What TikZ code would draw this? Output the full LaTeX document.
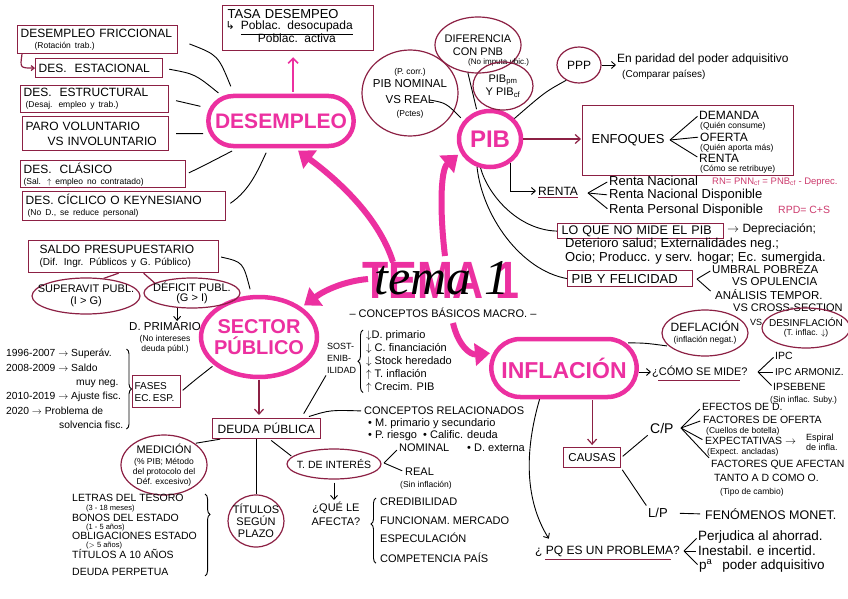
\documentclass[tikz,border=0pt]{standalone}
\usepackage{graphicx}
\usepackage{fontspec}
\setmainfont{Liberation Sans}
\newfontfamily\handf{Liberation Serif}
\newfontfamily\djv{DejaVu Sans}
\usetikzlibrary{shapes.geometric,shapes.misc,arrows.meta,decorations.pathreplacing,calc}
\definecolor{pinkM}{RGB}{236,48,160}
\definecolor{maroon}{RGB}{140,32,68}
\definecolor{rnC}{RGB}{205,60,110}
\newcommand{\fsz}[1]{\fontsize{#1}{#1}\selectfont}
\newcommand{\subtx}[1]{{\fontsize{8.5}{9}\selectfont #1}}
\newcommand{\tinytx}[1]{{\fontsize{7.5}{8}\selectfont #1}}
\lineskiplimit=-50pt
\begin{document}
\begin{tikzpicture}[x=1pt,y=-1pt,
  mbox/.style={draw=maroon, line width=1.2pt, inner sep=2pt, anchor=north west, align=left, font=\fsz{12}},
  mell/.style={draw=maroon, line width=1.2pt, ellipse, inner sep=0pt, align=center, font=\fsz{11}},
  bigshape/.style={draw=pinkM, line width=4.5pt, text=pinkM, align=center},
  con/.style={draw=black, line width=0.9pt},
  mcon/.style={draw=maroon, line width=1.2pt},
  marr/.style={mcon, -{Straight Barb[length=5pt,width=9pt]}},
  karr/.style={con, -{Straight Barb[length=4pt,width=7pt]}},
  bigarr/.style={draw=pinkM, line width=6pt, -{Triangle[length=15pt,width=22pt]}},
  txt/.style={inner sep=0pt, anchor=west, align=left, font=\fsz{11}},
  brc/.style={con, decorate, decoration={brace, amplitude=5pt, #1}},
  brc/.default={aspect=0.5},
]
\useasboundingbox (0,0) rectangle (848,599);
\fill[white] (0,0) rectangle (848,599);

% ================= DESEMPLEO =================
\node[mbox, minimum width=160pt, minimum height=28pt, text width=154pt] (fric) at (17,25) {DESEMPLEO FRICCIONAL\\[-1pt]\hspace*{14pt}\subtx{(Rotación trab.)}};
\node[mbox, minimum width=127pt, minimum height=19pt, text width=121pt] (est) at (35,58) {DES.\ \ ESTACIONAL};
\node[mbox, minimum width=148pt, minimum height=27pt, text width=142pt] (estr) at (20,85) {DES.\ \ ESTRUCTURAL\\[-1pt]\hspace*{2pt}\subtx{(Desaj. empleo y trab.)}};
\node[mbox, minimum width=146pt, minimum height=34pt, text width=140pt] (paro) at (22,116) {PARO VOLUNTARIO\\[3pt]\hspace*{22pt}VS INVOLUNTARIO};
\node[mbox, minimum width=165pt, minimum height=27pt, text width=159pt] (clas) at (20,160) {DES.\ \ CLÁSICO\\[-1pt]\subtx{(Sal. $\uparrow$ empleo no contratado)}};
\node[mbox, minimum width=203pt, minimum height=29pt, text width=197pt] (cicl) at (22,191) {DES. CÍCLICO O KEYNESIANO\\[-1pt]\hspace*{2pt}\subtx{(No D., se reduce personal)}};

\node[bigshape, rounded rectangle, minimum width=152pt, minimum height=50pt, font=\bfseries\fsz{21}] (des) at (281,121) {DESEMPLEO};

\node[mbox, minimum width=151pt, minimum height=45pt, text width=145pt, font=\fsz{13}] (tasa) at (222,5) {\hspace*{2pt}TASA DESEMPEO\\[-2pt]{\djv\fsz{11}↳}\hspace{6pt}\begin{tabular}[t]{@{}c@{}}\fsz{12}\underline{Poblac. desocupada}\\[-1pt]\fsz{12}Poblac. activa\end{tabular}};
\path (tasa.south) ++(-5,0) coordinate (tq);
\draw[draw=pinkM, line width=1.6pt, -{Straight Barb[length=5pt,width=10pt]}, shorten <=2pt, shorten >=6pt] (tq |- des.north) -- (tq);

\draw[mcon, -{Straight Barb[length=3pt,width=5pt]}] ([xshift=5pt]fric.south west) .. controls (20,68) .. (est.west);

\draw[con, shorten <=12pt, shorten >=8pt] (fric.east) .. controls (218,55) .. (des.150);
\draw[con, shorten <=6pt, shorten >=5pt] (est.east) .. controls (195,74) .. (des.157);
\draw[con, shorten <=7pt, shorten >=9pt] (estr.east) -- (des.170);
\draw[con, shorten <=7pt, shorten >=6pt] (paro.east) -- (des.190);
\draw[con, shorten <=3pt, shorten >=6pt] (clas.east) .. controls (205,165) .. (des.212);
\draw[con, shorten <=5pt, shorten >=5pt] (cicl.east) .. controls (250,190) and (258,170) .. (des.245);

% ================= PIB =================
\node[bigshape, ellipse, minimum width=62pt, minimum height=56pt, inner sep=0pt, font=\bfseries\fsz{24}] (pib) at (490,139) {PIB};
\node[mell, minimum width=86pt, minimum height=56pt, inner xsep=-4pt] (difer) at (478,45) {DIFERENCIA\\[2pt]CON PNB};
\node[txt, font=\fsz{8}] (difsub) at (468,62) {(No imputa ubic.)};
\node[mell, minimum width=60pt, minimum height=48pt] (pibpm) at (503,86) {PIB\textsubscript{pm}\\[2pt]Y PIB\textsubscript{cf}};
\node[mell, minimum width=96pt, minimum height=86pt, inner xsep=-4pt, font=\fsz{11.5}] (nom) at (410,93) {\subtx{(P. corr.)}\\[1.5pt]PIB NOMINAL\\[5pt]VS REAL\\[1pt]\subtx{(Pctes)}};
\coordinate (vsreal) at (430,100);
\draw[con, shorten >=4pt] (vsreal) .. controls (446,103) .. (pib.145);
\draw[con, shorten >=2pt] (difer.-110) -- (pib.115);

\node[mell, minimum width=44pt, minimum height=36pt, font=\fsz{12}] (ppp) at (579,65) {PPP};
\node[txt, font=\fsz{12}, anchor=north west] (pppt) at (617,54) {En paridad del poder adquisitivo\\[3pt]\hspace*{5pt}{\fsz{10}(Comparar países)}};
\draw[karr, shorten >=1pt] (ppp.east) -- (ppp.east -| pppt.west);
\draw[con] (ppp.230) .. controls (545,92) .. (pib.40);

\node[mbox, minimum width=211pt, minimum height=70pt, text width=205pt, font=\fsz{13}] (enf) at (582,105) {\hspace*{6pt}ENFOQUES};
\draw[marr, shorten >=1pt] (pib.east) -- (pib.east -| enf.west);
\coordinate (enfb) at (670,140);
\node[txt, font=\fsz{12}] (dem) at (699,115) {DEMANDA};
\node[txt, font=\fsz{8.5}] (demsub) at (700,126) {(Quién consume)};
\node[txt, font=\fsz{12}] (ofe) at (700,137) {OFERTA};
\node[txt, font=\fsz{8.5}] (ofesub) at (700,148) {(Quién aporta más)};
\node[txt, font=\fsz{12}] (ren) at (699,158) {RENTA};
\node[txt, font=\fsz{8.5}] (rensub) at (700,169) {(Cómo se retribuye)};
\draw[con, shorten >=2pt] (enfb) -- (dem.west);
\draw[con, shorten >=2pt] (enfb) -- (ofe.west);
\draw[con, shorten >=2pt] (enfb) -- (ren.west);

\node[txt, font=\fsz{12}] (renta) at (538,191) {RENTA};
\draw[karr, shorten >=2pt] (pib.-50) |- (renta.west);
\draw[mcon, line width=1pt] ([yshift=-2pt]renta.south west) -- ([yshift=-2pt]renta.south east);
\coordinate (rentab) at (588,193);
\node[txt, font=\fsz{13}] (rn) at (609,181) {Renta Nacional};
\node[txt, font=\fsz{13}] (rnd) at (609,195) {Renta Nacional Disponible};
\node[txt, font=\fsz{13}] (rpd) at (609,210) {Renta Personal Disponible};
\draw[con, shorten >=2pt] (rentab) -- (rn.west);
\draw[con, shorten >=2pt] (rentab) -- (rnd.west);
\draw[con, shorten >=2pt] (rentab) -- (rpd.west);
\node[txt, font=\fsz{9.5}, text=rnC] (rnf) at (712,182) {RN= PNN\textsubscript{cf} = PNB\textsubscript{cf} - Deprec.};
\node[txt, font=\fsz{10.5}, text=rnC] (rpdf) at (778,210) {RPD= C+S};

\node[mbox, minimum width=166pt, minimum height=15pt, inner sep=1.5pt, text width=162pt, font=\fsz{12.5}] (lo) at (557,223) {\hspace*{2pt}LO QUE NO MIDE EL PIB};
\node[txt, font=\fsz{12}] (lodep) at (727,229) {$\rightarrow$ Depreciación;};
\node[txt, font=\fsz{13}, anchor=north west] (lotx) at (565,238) {Deterioro salud; Externalidades neg.;\\[1pt]Ocio; Producc. y serv. hogar; Ec. sumergida.};

\node[mbox, minimum width=125pt, minimum height=16pt, inner sep=1.5pt, text width=121pt, font=\fsz{13}] (feliz) at (567,270) {\hspace*{2pt}PIB Y FELICIDAD};
\coordinate (felb) at (697,279);
\node[txt, font=\fsz{11.5}] (umb) at (712,270) {UMBRAL POBREZA};
\node[txt, font=\fsz{11.5}] (opu) at (732,282) {VS OPULENCIA};
\node[txt, font=\fsz{11.5}] (ana) at (715,295) {ANÁLISIS TEMPOR.};
\node[txt, font=\fsz{11}] (cross) at (733,308) {VS CROSS-SECTION};
\draw[con, shorten >=2pt] (felb) -- (umb.west);
\draw[con, shorten >=6pt] (felb) -- (ana.west);

\draw[con] (pib.-108) .. controls (488,195) and (518,230) .. (lo.west);
\draw[con] (pib.-115) .. controls (482,215) and (520,270) .. (feliz.west);

% ================= INFLACION =================
\node[bigshape, rounded rectangle, minimum width=152pt, minimum height=58pt, font=\bfseries\fsz{23}] (infl) at (564,368) {INFLACIÓN};
\node[mell, minimum width=86pt, minimum height=46pt, inner xsep=-5pt, font=\fsz{12}] (defl) at (705,333) {DEFLACIÓN\\[-1pt]\subtx{(inflación negat.)}};
\node[txt, font=\fsz{9}] (vs) at (750,322) {VS};
\node[mell, minimum width=88pt, minimum height=40pt, inner xsep=-8pt, font=\fsz{10}] (desinf) at (806,328) {DESINFLACIÓN\\[-1pt]\subtx{(T. inflac. $\downarrow$)}};
\draw[con, shorten <=2pt, shorten >=2pt] (infl.22) .. controls (645,343) .. (defl.200);

\node[txt, font=\fsz{11}] (mide) at (652,372) {¿CÓMO SE MIDE?};
\draw[karr, shorten >=1pt] (mide.west -| infl.east) -- (mide.west);
\draw[mcon, line width=1pt] ([yshift=-2.5pt,xshift=6pt]mide.south west) -- ([yshift=-2.5pt,xshift=-8pt]mide.south east);
\coordinate (mideb) at (758,372);
\node[txt, font=\fsz{10.5}] (ipc) at (775,356) {IPC};
\node[txt, font=\fsz{10}] (ipca) at (775,372) {IPC ARMONIZ.};
\node[txt, font=\fsz{10.5}] (ipse) at (773,387) {IPSEBENE};
\node[txt, font=\fsz{8.5}] (ipsesub) at (770,400) {(Sin inflac. Suby.)};
\draw[con, shorten >=2pt] (mideb) -- (ipc.west);
\draw[con, shorten >=2pt] (mideb) -- (ipca.west);
\draw[con, shorten >=2pt] (mideb) -- (ipse.west);

\node[mbox, minimum width=57pt, minimum height=20pt, text width=51pt, align=center, font=\fsz{11.5}] (causas) at (563,447) {CAUSAS};
\draw[marr, shorten <=1pt, shorten >=2pt] (infl.south -| causas.north) -- (causas.north);

\node[txt, font=\fsz{14}] (cp) at (650,428) {C/P};
\draw[con, shorten <=2pt, shorten >=3pt] (causas.east) -- (cp.south west);
\coordinate (cpb) at (681,428);
\node[txt, font=\fsz{10.5}] (efd) at (702,407) {EFECTOS DE D.};
\node[txt, font=\fsz{10.5}] (fof) at (703,420) {FACTORES DE OFERTA};
\node[txt, font=\fsz{8.5}] (fofsub) at (706,431) {(Cuellos de botella)};
\node[txt, font=\fsz{10.5}] (expe) at (705,441) {EXPECTATIVAS $\rightarrow$};
\node[txt, font=\fsz{9}] (espi) at (806,442) {Espiral\\[1pt]de infla.};
\node[txt, font=\fsz{8.5}] (expesub) at (707,452) {(Expect. ancladas)};
\node[txt, font=\fsz{10.5}, anchor=north west] (fqa) at (711,460) {FACTORES QUE AFECTAN\\[3.5pt]\hspace*{3pt}TANTO A D COMO O.};
\node[txt, font=\fsz{8.5}] (tipo) at (720,492) {(Tipo de cambio)};
\draw[con, shorten >=3pt] (cpb) -- (efd.west);
\draw[con, shorten >=3pt] (cpb) -- (fof.west);
\draw[con, shorten >=3pt] (cpb) -- (expe.west);
\draw[con, shorten >=3pt] (cpb) -- (fqa.north west);

\node[txt, font=\fsz{13}] (lp) at (648,513) {L/P};
\draw[con, shorten <=2pt, shorten >=3pt] (causas.south east) -- (lp.north west);
\node[txt, font=\fsz{12.5}] (fen) at (705,514) {FENÓMENOS MONET.};
\draw[con, shorten <=12pt, shorten >=5pt] (lp.east) -- (fen.west);

\node[txt, font=\fsz{12}] (prob) at (535,551) {¿ PQ ES UN PROBLEMA?};
\draw[karr, shorten >=8pt] (infl.-128) .. controls (522,460) and (528,505) .. ([xshift=18pt]prob.north west);
\draw[mcon, line width=1pt] ([yshift=-2.5pt,xshift=10pt]prob.south west) -- ([yshift=-2.5pt,xshift=-9pt]prob.south east);
\coordinate (probb) at (684,551);
\node[txt, font=\fsz{13.5}] (perj) at (698,537) {Perjudica al ahorrad.};
\node[txt, font=\fsz{13.5}] (ines) at (698,551) {Inestabil. e incertid.};
\node[txt, font=\fsz{13.5}] (pa) at (699,566) {p\textsuperscript{a}\hspace{10pt}poder adquisitivo};
\draw[con, shorten >=2pt] (probb) -- (perj.west);
\draw[con, shorten >=2pt] (probb) -- (ines.west);
\draw[con, shorten >=2pt] (probb) -- (pa.west);

% ================= SECTOR PUBLICO =================
\node[bigshape, ellipse, minimum width=116pt, minimum height=80pt, inner sep=0pt, inner xsep=-6pt, font=\bfseries\fsz{20}] (sp) at (259,337) {SECTOR\\[1.5pt]PÚBLICO};

\node[mbox, minimum width=190pt, minimum height=32pt, text width=184pt] (saldo) at (28,240) {\hspace*{8pt}SALDO PRESUPUESTARIO\\[0pt]\hspace*{8pt}{\fsz{10}(Dif. Ingr. Públicos y G. Público)}};
\node[mell, minimum width=108pt, minimum height=36pt, inner xsep=-14pt] (super) at (86,296) {SUPERAVIT PUBL.\\[1pt](I > G)};
\node[mell, minimum width=96pt, minimum height=30pt, inner xsep=-6pt, inner ysep=-1pt] (defic) at (192,293) {DÉFICIT PUBL.\\[-1pt](G > I)};
\draw[mcon] ([xshift=-5pt]saldo.south) -- (super.45);
\draw[mcon] ([xshift=20pt]saldo.south) -- (defic.165);
\draw[con, shorten <=2pt, shorten >=6pt] (saldo.east) .. controls (243,262) .. (sp.100);

\node[inner sep=0pt, align=center, anchor=north, font=\fsz{11.5}] (dprim) at (165,322) {D. PRIMARIO\\[0pt]\subtx{(No intereses}\\[-2pt]\subtx{deuda públ.)}};
\draw[karr, shorten >=1pt] (defic.-135) -- (defic.-135 |- dprim.north);

\node[inner sep=0pt, anchor=north west, align=left, font=\fsz{10.3}] (hist) at (6,349) {1996-2007 $\rightarrow$ Superáv.\\[4.1pt]2008-2009 $\rightarrow$ Saldo\\[4.1pt]\hspace*{70pt}muy neg.\\[4.1pt]2010-2019 $\rightarrow$ Ajuste fisc.\\[4.1pt]2020 $\rightarrow$ Problema de\\[4.1pt]\hspace*{53pt}solvencia fisc.};
\draw[brc] ([xshift=3pt]hist.north east) -- ([xshift=3pt]hist.south east);
\node[mbox, minimum width=46pt, minimum height=32pt, text width=46pt, inner sep=1pt, font=\fsz{10}] (fases) at (132,375) {\hspace*{1pt}FASES\\[2pt]\hspace*{1pt}EC.\,ESP.};
\draw[con, shorten <=2pt, shorten >=2pt] (fases.east) .. controls (195,380) .. (sp.212);

\node[mbox, minimum width=108pt, minimum height=20pt, text width=102pt, font=\fsz{12}] (deuda) at (212,418) {\hspace*{2pt}DEUDA PÚBLICA};
\draw[marr, shorten >=3pt, shorten <=1pt] (sp.south) -- (sp.south |- deuda.north);

\node[inner sep=0pt, anchor=north west, align=left, font=\fsz{9}] (sost) at (327,343) {SOST-\\[3pt]ENIB-\\[3pt]ILIDAD};
\node[inner sep=0pt, anchor=north west, align=left, font=\fsz{11}] (sostl) at (366,330) {$\downarrow$D. primario\\[2pt]$\downarrow$ C. financiación\\[2pt]$\downarrow$ Stock heredado\\[2pt]$\uparrow$ T. inflación\\[2pt]$\uparrow$ Crecim. PIB};
\draw[brc] ([xshift=-3pt]sostl.south west) -- ([xshift=-3pt]sostl.north west);
\draw[con, shorten <=5pt, shorten >=2pt] ([xshift=-20pt]deuda.north east) -- (sost.south west);

\node[txt, font=\fsz{11}] (crel) at (364,411) {CONCEPTOS RELACIONADOS};
\node[inner sep=0pt, anchor=north west, align=left, font=\fsz{11}] (crell) at (368,418) {• M. primario y secundario\\[1pt]• P. riesgo \ • Calific. deuda};
\node[txt, font=\fsz{11}] (dext) at (467,448) {• D. externa};
\draw[con, shorten <=5pt, shorten >=3pt] ([xshift=-17pt]deuda.north east) .. controls (330,410) .. (crel.west);

\node[mell, minimum width=94pt, minimum height=30pt, inner xsep=-8pt, font=\fsz{10.5}] (tint) at (334,464) {T. DE INTERÉS};
\draw[con, shorten <=2pt, shorten >=1pt] ([xshift=3pt]deuda.south) -- (tint.170);
\coordinate (tintb) at (384,463);
\node[txt, font=\fsz{11}] (nomi) at (399,448) {NOMINAL};
\node[txt, font=\fsz{11}] (real) at (405,472) {REAL};
\node[txt, font=\fsz{8.5}] (realsub) at (400,485) {(Sin inflación)};
\draw[con, shorten >=3pt] (tintb) -- (nomi.west);
\draw[con, shorten >=3pt] (tintb) -- (real.west);

\node[inner sep=0pt, align=center, anchor=north, font=\fsz{11}] (afec) at (336,502) {¿QUÉ LE\\[3pt]AFECTA?};
\draw[karr, shorten <=3pt, shorten >=2pt] (tint.south) -- (tint.south |- afec.north);
\node[inner sep=0pt, anchor=north west, align=left, font=\fsz{11}] (afl) at (380,498) {CREDIBILIDAD\\[8pt]FUNCIONAM. MERCADO\\[7pt]ESPECULACIÓN\\[9pt]COMPETENCIA PAÍS};
\draw[brc={aspect=0.6}] ([xshift=-4pt]afl.south west) -- ([xshift=-4pt]afl.north west);

\node[mell, minimum width=86pt, minimum height=60pt, inner xsep=-6pt] (med) at (164,465) {MEDICIÓN\\[0pt]\subtx{(\% PIB; Método}\\[-1pt]\subtx{del protocolo del}\\[-1pt]\subtx{Déf. excesivo)}};
\draw[con, shorten >=1pt] ([xshift=8pt]deuda.south west) -- (med.35);

\node[mell, minimum width=56pt, minimum height=52pt, inner xsep=-4pt, inner ysep=-2pt] (tit) at (256,521) {TÍTULOS\\[1pt]SEGÚN\\[1pt]PLAZO};
\draw[con] (deuda.south -| tit.north) -- (tit.north);

\node[inner sep=0pt, anchor=north west, align=left, font=\fsz{10.5}] (tlist) at (72,494) {LETRAS DEL TESORO\\[-1.5pt]\hspace*{14pt}\tinytx{(3 - 18 meses)}\\[0.5pt]BONOS DEL ESTADO\\[-2.5pt]\hspace*{14pt}\tinytx{(1 - 5 años)}\\[-0.5pt]OBLIGACIONES ESTADO\\[-2.5pt]\hspace*{14pt}\tinytx{($>$ 5 años)}\\[0.5pt]TÍTULOS A 10 AÑOS\\[6.5pt]DEUDA PERPETUA};
\draw[brc={aspect=0.25}] ([xshift=8pt]tlist.north east) -- ([xshift=8pt]tlist.south east);

% ================= TEMA 1 =================
\node[inner sep=0pt, text=pinkM, font=\bfseries\fsz{43}] (tema) at (441,280) {\scalebox{1}[1.22]{TEMA 1}};
\node[inner sep=0pt, font=\handf\itshape\fsz{50}] (temab) at (442,278) {tema 1};
\node[inner sep=0pt, font=\fsz{11}] (cbm) at (443,313) {– CONCEPTOS BÁSICOS MACRO. –};

\coordinate (t1) at (393,262);
\coordinate (t2) at (445,256);
\coordinate (t3) at (368,279);
\coordinate (t4) at (453,323);
\draw[bigarr, shorten >=4pt] (t1) .. controls (378,215) and (335,178) .. (des.-63);
\draw[bigarr, shorten >=3pt] (t2) .. controls (440,215) and (440,170) .. (pib.205);
\draw[bigarr, shorten >=3pt] (t3) .. controls (345,281) and (325,290) .. (sp.35);
\draw[bigarr, shorten >=3pt] (t4) .. controls (458,345) and (470,355) .. (infl.168);
\end{tikzpicture}
\end{document}
